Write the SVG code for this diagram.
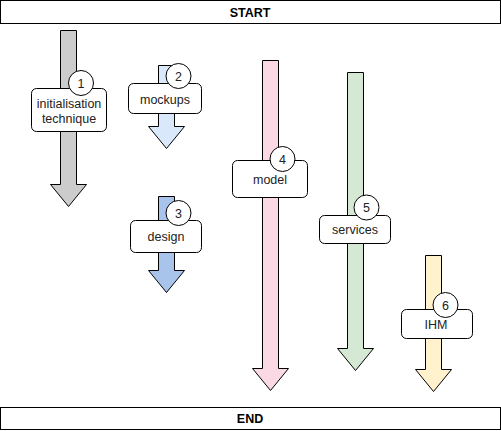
<svg xmlns="http://www.w3.org/2000/svg" width="501" height="431" viewBox="0 0 501 431">
<style>
text{font-family:"Liberation Sans",Arial,Helvetica,sans-serif;font-size:12.5px;fill:#222;text-anchor:middle}
.t{font-weight:bold;fill:#000;font-size:12.5px}
.bar{fill:#fff;stroke:#000;stroke-width:1}
.arr{stroke:#000;stroke-width:1}
.box{fill:#fff;stroke:#000;stroke-width:1}
.num{fill:#fff;stroke:#000;stroke-width:1}
</style>
<rect width="501" height="431" fill="#fff"/>
<g id="start"><rect class="bar" x="0.5" y="0.5" width="500" height="23"/><text class="t" x="250" y="16.5">START</text></g>
<g id="end"><rect class="bar" x="0.5" y="407.5" width="500" height="22"/><text class="t" x="250" y="423">END</text></g>
<g id="connectors">
<polygon class="arr" fill="#cccccc" points="60.5,30.5 76.5,30.5 76.5,184.5 86.5,184.5 68.5,206.5 50.5,184.5 60.5,184.5"/>
<polygon class="arr" fill="#dae8fc" points="158.5,65.5 174.5,65.5 174.5,126.5 184.5,126.5 166.5,148.5 148.5,126.5 158.5,126.5"/>
<polygon class="arr" fill="#a9c4eb" points="158.5,196.5 174.5,196.5 174.5,270.5 184.5,270.5 166.5,292.5 148.5,270.5 158.5,270.5"/>
<polygon class="arr" fill="#fad9e5" points="262.5,60.5 278.5,60.5 278.5,368.5 288.5,368.5 270.5,390.5 252.5,368.5 262.5,368.5"/>
<polygon class="arr" fill="#d5e8d4" points="347.5,72.5 363.5,72.5 363.5,348.5 373.5,348.5 355.5,370.5 337.5,348.5 347.5,348.5"/>
<polygon class="arr" fill="#fff2cc" points="425.5,255.5 441.5,255.5 441.5,369.5 451.5,369.5 433.5,391.5 415.5,369.5 425.5,369.5"/>
</g>
<g id="n1"><rect class="box" x="31.5" y="88.5" width="75" height="43" rx="5"/><circle class="num" cx="81" cy="83" r="12.5"/><text x="81" y="87.5">1</text><text x="69" y="107.5">initialisation</text><text x="69" y="122.5">technique</text></g>
<g id="n2"><rect class="box" x="128.5" y="83.5" width="73" height="30" rx="5"/><circle class="num" cx="178.5" cy="76" r="12.5"/><text x="178.5" y="80.5">2</text><text x="165" y="104">mockups</text></g>
<g id="n3"><rect class="box" x="130.5" y="220.5" width="71" height="32" rx="5"/><circle class="num" cx="178.5" cy="213" r="12.5"/><text x="178.5" y="217.5">3</text><text x="166" y="241">design</text></g>
<g id="n4"><rect class="box" x="232.5" y="160.5" width="75" height="37" rx="5"/><circle class="num" cx="282.5" cy="159" r="12.5"/><text x="282.5" y="163.5">4</text><text x="270" y="184">model</text></g>
<g id="n5"><rect class="box" x="319.5" y="215.5" width="71" height="28" rx="5"/><circle class="num" cx="366.5" cy="207.5" r="12.5"/><text x="366.5" y="212">5</text><text x="355" y="233.5">services</text></g>
<g id="n6"><rect class="box" x="401.5" y="309.5" width="71" height="29" rx="5"/><circle class="num" cx="445.5" cy="305" r="12.5"/><text x="445.5" y="309.5">6</text><text x="436" y="329">IHM</text></g>
</svg>
